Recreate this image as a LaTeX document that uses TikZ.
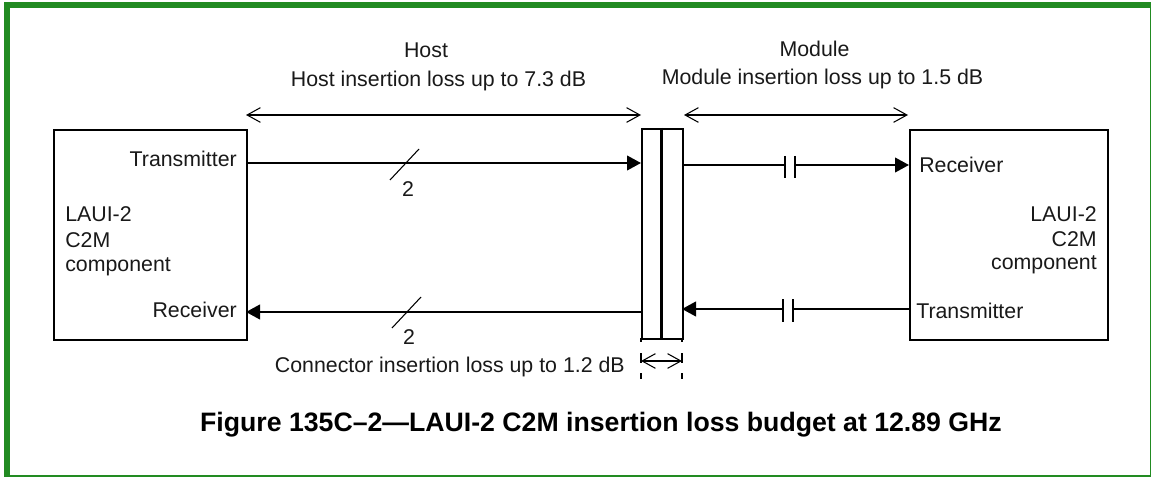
\documentclass[tikz,border=0pt]{standalone}
\usepackage{fontspec}
\setmainfont{Liberation Sans}
\usetikzlibrary{arrows.meta}
\definecolor{band}{RGB}{34,139,34}
\tikzset{
  line/.style={draw=black,line width=1.5pt},
  boxn/.style={draw=black,line width=1.5pt,inner sep=0pt},
  lbl/.style={inner sep=0pt,font=\fontsize{16}{19}\selectfont,text=black!90},
  head/.style={-{Triangle[length=10.5pt,width=11pt]}},
  dim/.style={line width=1.1pt,{Straight Barb[length=10pt,width=11pt,line width=0.8pt]}-{Straight Barb[length=10pt,width=11pt,line width=0.8pt]}},
  tick/.style={line width=1.5pt},
  slash/.style={line width=0.8pt},
}
\begin{document}
\begin{tikzpicture}[x=0.75pt,y=-0.75pt]
\useasboundingbox (0,0) rectangle (1151,477);
\fill[white] (0,0) rectangle (1151,477);
\fill[band] (4,2) rectangle (1151,8);
\fill[band] (4,2) rectangle (10,477);
\fill[band] (1149.5,2) rectangle (1151,477);
\fill[band] (4,475) rectangle (1151,477);
% boxes
\node[boxn,minimum width=144.75pt,minimum height=157.5pt,anchor=north west] (leftbox) at (53,129) {};
\node[boxn,minimum width=148.5pt,minimum height=157.5pt,anchor=north west] (rightbox) at (909,129) {};
\node[boxn,minimum width=30.75pt,minimum height=157.5pt,anchor=north west] (conn) at (641,128) {};
\coordinate (midT) at (661.7,128); \coordinate (midB) at (661.7,338);
\draw[line width=2.3pt] (midT) -- (midB);
% labels
\node[lbl,anchor=base east] (txl) at (237,167) {Transmitter};
\node[lbl,anchor=base east] (rxl) at (237,317) {Receiver};
\node[lbl,anchor=base west] (rxr) at (919,173) {Receiver};
\node[lbl,anchor=base west] (txr) at (916,318) {Transmitter};
\node[lbl,anchor=base west] (c1) at (65,221) {LAUI-2};
\node[lbl,anchor=base west] (c2) at (65,247) {C2M};
\node[lbl,anchor=base west] (c3) at (65,271) {component};
\node[lbl,anchor=base east] (d1) at (1097,221) {LAUI-2};
\node[lbl,anchor=base east] (d2) at (1097,246) {C2M};
\node[lbl,anchor=base east] (d3) at (1097,269) {component};
\node[lbl,anchor=base] (h1) at (426,58) {Host};
\node[lbl,anchor=base] (h2) at (438.5,87) {Host insertion loss up to 7.3 dB};
\node[lbl,anchor=base] (m1) at (814.5,57) {Module};
\node[lbl,anchor=base] (m2) at (822.5,85) {Module insertion loss up to 1.5 dB};
\node[lbl,anchor=base east] (cl) at (625,372) {Connector insertion loss up to 1.2 dB};
\node[lbl,anchor=base] (n1) at (408,196) {2};
\node[lbl,anchor=base] (n2) at (409,344) {2};
\node[lbl,anchor=base,font=\bfseries\fontsize{20}{24}\selectfont,text=black] (title) at (601,431) {Figure 135C–2—LAUI-2 C2M insertion loss budget at 12.89 GHz};
% dimension arrows
\coordinate (hL) at (246,115); \coordinate (hR) at (641,115);
\coordinate (mL) at (684,115); \coordinate (mR) at (908,115);
\draw[dim] (hL) -- (hR);
\draw[dim] (mL) -- (mR);
% signal lines
\coordinate (ta) at (246,163); \coordinate (tb) at (641,163);
\coordinate (ra) at (641,312); \coordinate (rb) at (246,312);
\draw[line,head] (ta) -- (tb);
\draw[line,head] (ra) -- (rb);
\coordinate (s1a) at (390,180); \coordinate (s1b) at (419,149);
\coordinate (s2a) at (392,328); \coordinate (s2b) at (421,297);
\draw[slash] (s1a) -- (s1b);
\draw[slash] (s2a) -- (s2b);
% capacitors
\coordinate (u1) at (682,165); \coordinate (u2) at (785,165);
\coordinate (u3) at (795,165); \coordinate (u4) at (909,165);
\draw[line] (u1) -- (u2);
\draw[line,head] (u3) -- (u4);
\draw[line] (785,156) -- (785,178);
\draw[line] (795,156) -- (795,178);
\coordinate (v1) at (909,309); \coordinate (v2) at (793,309);
\coordinate (v3) at (783,309); \coordinate (v4) at (682,309);
\draw[line] (v1) -- (v2);
\draw[line,head] (v3) -- (v4);
\draw[line] (783,299) -- (783,322);
\draw[line] (793,299) -- (793,322);
% connector dimension
\foreach \x in {641,682}{
  \draw[tick] (\x,338) -- (\x,342);
  \draw[tick] (\x,353) -- (\x,363);
  \draw[tick] (\x,373) -- (\x,379);
}
\coordinate (cL) at (641,361); \coordinate (cR) at (682,361);
\draw[dim] (cL) -- (cR);
\end{tikzpicture}
\end{document}
